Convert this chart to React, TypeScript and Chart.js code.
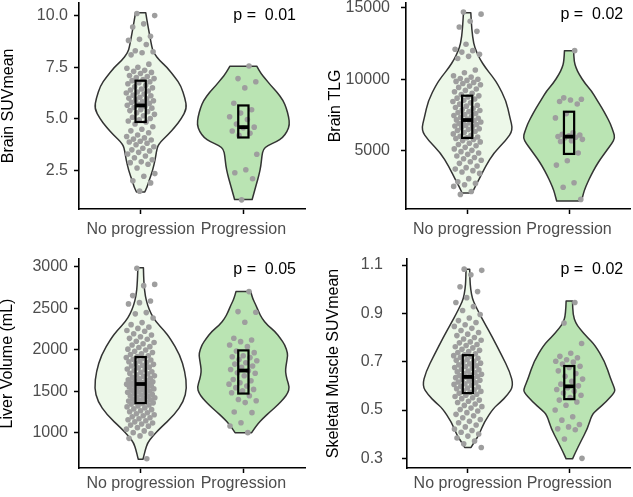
import React, { useEffect, useRef } from "react";
import { Chart, registerables } from "chart.js";

Chart.register(...registerables);

const categories = ["No progression", "Progression"];

// ---------- Panel A: Brain SUVmean ----------
const suvTicks = [2.5, 5, 7.5, 10];
const suvTickLabels = ["2.5", "5.0", "7.5", "10.0"];
const suvNoProg = [10.1, 10.0, 9.6, 9.45, 9.0, 8.85, 8.8, 8.6, 8.3, 8.25, 8.2, 8.1, 7.65, 7.5, 7.45, 7.35, 7.3, 7.25, 7.2, 7.1, 7.05, 7.0, 6.95, 6.9, 6.85, 6.8, 6.75, 6.7, 6.62, 6.55, 6.5, 6.45, 6.4, 6.35, 6.3, 6.25, 6.2, 6.15, 6.12, 6.05, 6.0, 5.97, 5.92, 5.88, 5.83, 5.8, 5.75, 5.7, 5.66, 5.6, 5.55, 5.52, 5.45, 5.4, 5.35, 5.3, 5.22, 5.15, 5.08, 5.02, 4.95, 4.9, 4.85, 4.75, 4.62, 4.5, 4.42, 4.33, 4.22, 4.15, 4.08, 4.02, 3.98, 3.92, 3.88, 3.82, 3.75, 3.65, 3.58, 3.5, 3.45, 3.38, 3.3, 3.2, 3.12, 3.02, 2.92, 2.88, 2.8, 2.62, 2.35, 2.22, 2.0, 1.9, 1.5];
const suvProg = [7.56, 6.95, 6.8, 6.5, 5.76, 5.44, 5.28, 5.1, 4.97, 4.75, 4.6, 4.57, 4.41, 4.3, 4.2, 3.29, 2.54, 2.39, 2.1, 1.08];
const suvNoProgBox = [4.85, 5.65, 6.85];
const suvProgBox = [4.1, 4.6, 5.65];
const suvNoProgLevels = [1.46, 1.7, 2.0, 2.5, 3.1, 3.4, 3.77, 4.25, 4.6, 5.0, 5.5, 6.0, 6.6, 7.0, 7.5, 7.8, 8.2, 8.5, 9.0, 9.6, 10.14];
const suvNoProgWidths = [0.09, 0.14, 0.18, 0.26, 0.32, 0.34, 0.38, 0.6, 0.74, 0.88, 1.0, 0.96, 0.87, 0.75, 0.57, 0.42, 0.28, 0.24, 0.2, 0.15, 0.11];
const suvProgLevels = [1.1, 1.5, 1.9, 2.3, 2.73, 3.2, 3.53, 3.7, 3.9, 4.09, 4.4, 4.72, 5.1, 5.52, 5.9, 6.32, 6.6, 6.96, 7.2, 7.55];
const suvProgWidths = [0.19, 0.24, 0.29, 0.34, 0.38, 0.4, 0.43, 0.52, 0.72, 0.85, 0.95, 1.0, 0.98, 0.93, 0.86, 0.72, 0.6, 0.47, 0.38, 0.29];

// ---------- Panel B: Brain TLG ----------
const tlgTicks = [5000, 10000, 15000];
const tlgTickLabels = ["5000", "10000", "15000"];
const tlgNoProg = [14700, 14550, 14050, 13650, 13350, 12450, 12100, 12000, 11900, 11750, 11600, 11450, 10650, 10450, 10250, 10150, 10050, 10000, 9920, 9850, 9780, 9700, 9620, 9520, 9430, 9320, 9220, 9130, 9020, 8930, 8840, 8760, 8680, 8620, 8530, 8440, 8350, 8260, 8180, 8120, 8030, 7950, 7880, 7820, 7740, 7680, 7610, 7540, 7470, 7410, 7340, 7270, 7220, 7160, 7110, 7060, 7010, 6960, 6910, 6840, 6780, 6730, 6680, 6620, 6540, 6480, 6420, 6350, 6270, 6180, 6090, 6020, 5960, 5910, 5860, 5790, 5710, 5620, 5530, 5440, 5350, 5240, 5130, 5030, 4940, 4840, 4750, 4640, 4530, 4440, 4340, 4230, 4120, 3940, 3820, 3720, 3610, 3520, 3420, 3050, 2830, 2720, 2630, 2510, 2150, 1950];
const tlgProg = [12000, 8700, 8600, 8550, 8450, 8270, 7600, 7300, 6250, 6150, 6100, 6050, 6000, 5950, 5900, 5800, 5700, 5650, 4850, 4300, 4000, 2770, 2450, 1600];
const tlgNoProgBox = [5900, 7150, 8850];
const tlgProgBox = [4780, 5990, 7730];
const tlgNoProgLevels = [2050, 2400, 3000, 3900, 4850, 5740, 6450, 7350, 8500, 9650, 10200, 10800, 11400, 11950, 12500, 13500, 14650];
const tlgNoProgWidths = [0.11, 0.16, 0.26, 0.4, 0.58, 0.85, 1.0, 0.93, 0.85, 0.67, 0.55, 0.4, 0.28, 0.2, 0.14, 0.1, 0.08];
const tlgProgLevels = [1490, 1840, 2200, 2760, 3300, 3900, 4500, 5060, 5500, 5900, 6300, 6900, 7400, 8040, 8600, 9190, 9700, 10340, 10800, 11260, 12000];
const tlgProgWidths = [0.27, 0.3, 0.33, 0.4, 0.48, 0.58, 0.7, 0.83, 0.93, 1.0, 0.97, 0.9, 0.82, 0.71, 0.6, 0.49, 0.35, 0.22, 0.15, 0.11, 0.1];

// ---------- Panel C: Liver Volume ----------
const liverTicks = [1000, 1500, 2000, 2500, 3000];
const liverTickLabels = ["1000", "1500", "2000", "2500", "3000"];
const liverNoProg = [2985, 2790, 2775, 2655, 2590, 2570, 2555, 2450, 2435, 2385, 2330, 2305, 2275, 2260, 2235, 2225, 2195, 2180, 2160, 2140, 2130, 2105, 2090, 2075, 2060, 2040, 2030, 2010, 2000, 1985, 1970, 1955, 1945, 1930, 1920, 1910, 1898, 1887, 1880, 1866, 1858, 1850, 1836, 1827, 1815, 1806, 1793, 1784, 1770, 1762, 1750, 1738, 1731, 1718, 1712, 1700, 1688, 1683, 1671, 1660, 1652, 1640, 1634, 1625, 1618, 1610, 1603, 1598, 1594, 1588, 1583, 1575, 1568, 1561, 1553, 1546, 1538, 1531, 1522, 1514, 1506, 1497, 1490, 1481, 1473, 1466, 1457, 1449, 1441, 1432, 1424, 1417, 1408, 1399, 1392, 1384, 1377, 1370, 1363, 1356, 1348, 1337, 1325, 1314, 1302, 1290, 1281, 1268, 1255, 1243, 1232, 1220, 1208, 1195, 1183, 1172, 1160, 1147, 1134, 1121, 1108, 1095, 1082, 1064, 1046, 1025, 1004, 992, 965, 935, 690];
const liverProg = [2703, 2462, 2454, 2334, 2141, 2121, 2100, 2060, 2040, 1988, 1968, 1930, 1918, 1908, 1885, 1870, 1846, 1830, 1806, 1790, 1765, 1749, 1725, 1719, 1690, 1645, 1630, 1605, 1588, 1566, 1546, 1525, 1508, 1484, 1448, 1404, 1388, 1366, 1253, 1245, 1124, 1084, 1004];
const liverNoProgBox = [1360, 1590, 1915];
const liverProgBox = [1475, 1752, 1995];
const liverNoProgLevels = [683, 700, 795, 880, 955, 1057, 1217, 1380, 1540, 1740, 1940, 2140, 2240, 2340, 2440, 2540, 2650, 2800, 2990];
const liverNoProgWidths = [0.05, 0.06, 0.1, 0.15, 0.25, 0.42, 0.73, 0.93, 1.0, 0.96, 0.85, 0.64, 0.5, 0.33, 0.22, 0.15, 0.1, 0.07, 0.06];
const liverProgLevels = [1004, 1096, 1180, 1257, 1340, 1418, 1480, 1550, 1650, 1740, 1800, 1900, 1960, 2060, 2140, 2220, 2300, 2382, 2460, 2542, 2620, 2703];
const liverProgWidths = [0.18, 0.29, 0.43, 0.58, 0.75, 0.88, 0.96, 1.0, 0.94, 0.91, 0.92, 0.95, 0.96, 0.9, 0.8, 0.69, 0.52, 0.4, 0.33, 0.27, 0.2, 0.16];

// ---------- Panel D: Skeletal Muscle SUVmean ----------
const muscleTicks = [0.3, 0.5, 0.7, 0.9, 1.1];
const muscleTickLabels = ["0.3", "0.5", "0.7", "0.9", "1.1"];
const muscleNoProg = [1.083, 1.078, 1.06, 1.01, 0.99, 0.965, 0.945, 0.928, 0.912, 0.895, 0.881, 0.87, 0.862, 0.853, 0.846, 0.838, 0.829, 0.821, 0.814, 0.808, 0.8, 0.794, 0.789, 0.782, 0.778, 0.771, 0.767, 0.762, 0.757, 0.751, 0.747, 0.742, 0.738, 0.733, 0.729, 0.725, 0.721, 0.718, 0.714, 0.709, 0.706, 0.702, 0.699, 0.694, 0.691, 0.687, 0.683, 0.68, 0.676, 0.673, 0.669, 0.666, 0.661, 0.658, 0.655, 0.651, 0.648, 0.645, 0.643, 0.64, 0.637, 0.634, 0.631, 0.627, 0.623, 0.62, 0.616, 0.613, 0.609, 0.606, 0.602, 0.598, 0.595, 0.591, 0.588, 0.584, 0.58, 0.577, 0.573, 0.569, 0.565, 0.561, 0.556, 0.551, 0.547, 0.541, 0.536, 0.531, 0.525, 0.519, 0.514, 0.508, 0.502, 0.496, 0.489, 0.482, 0.476, 0.468, 0.461, 0.453, 0.447, 0.438, 0.43, 0.421, 0.415, 0.408, 0.401, 0.392, 0.384, 0.372, 0.36, 0.345];
const muscleProg = [0.945, 0.86, 0.775, 0.735, 0.722, 0.716, 0.708, 0.702, 0.698, 0.69, 0.681, 0.676, 0.662, 0.651, 0.64, 0.628, 0.619, 0.607, 0.6, 0.592, 0.585, 0.578, 0.57, 0.561, 0.552, 0.541, 0.533, 0.52, 0.5, 0.472, 0.458, 0.44, 0.43, 0.422, 0.418, 0.38, 0.3];
const muscleNoProgBox = [0.57, 0.637, 0.727];
const muscleProgBox = [0.545, 0.598, 0.682];
const muscleNoProgLevels = [0.345, 0.37, 0.396, 0.451, 0.507, 0.53, 0.562, 0.6, 0.658, 0.727, 0.8, 0.865, 0.9, 0.934, 0.96, 1.0, 1.04, 1.083];
const muscleNoProgWidths = [0.07, 0.15, 0.24, 0.36, 0.56, 0.7, 0.87, 1.0, 0.92, 0.74, 0.54, 0.35, 0.25, 0.16, 0.1, 0.06, 0.045, 0.04];
const muscleProgLevels = [0.298, 0.327, 0.369, 0.424, 0.479, 0.5, 0.534, 0.575, 0.59, 0.631, 0.7, 0.769, 0.8, 0.838, 0.86, 0.893, 0.951];
const muscleProgWidths = [0.07, 0.14, 0.25, 0.4, 0.49, 0.6, 0.81, 1.0, 0.99, 0.9, 0.78, 0.56, 0.4, 0.22, 0.14, 0.08, 0.07];

const FONT = '"Liberation Sans", Arial, Helvetica, sans-serif';
const fillColors = ["#edf8e9", "#bae4b3"];

type Panel = {
  title: string;
  pText: string;
  yMin: number;
  yMax: number;
  ticks: number[];
  tickLabels: string[];
  groups: { values: number[]; box: number[]; levels: number[]; widths: number[] }[];
  geo: {
    x: number; y: number; w: number; h: number;
    padTop: number; padRight: number;
    yWidth: number; xHeight: number;
    yTickPad: number; xTickPad: number; titlePad: number;
    pRight: number; pTop: number;
  };
};

const panels: Panel[] = [
  {
    title: "Brain SUVmean", pText: "p =  0.01", yMin: 0.637, yMax: 10.62,
    ticks: suvTicks, tickLabels: suvTickLabels,
    groups: [
      { values: suvNoProg, box: suvNoProgBox, levels: suvNoProgLevels, widths: suvNoProgWidths },
      { values: suvProg, box: suvProgBox, levels: suvProgLevels, widths: suvProgWidths },
    ],
    geo: { x: 0, y: 0, w: 316, h: 250, padTop: 0, padRight: 11, yWidth: 79, xHeight: 41, yTickPad: 6, xTickPad: 6, titlePad: 1, pRight: 9, pTop: 13 },
  },
  {
    title: "Brain TLG", pText: "p =  0.02", yMin: 930, yMax: 15345,
    ticks: tlgTicks, tickLabels: tlgTickLabels,
    groups: [
      { values: tlgNoProg, box: tlgNoProgBox, levels: tlgNoProgLevels, widths: tlgNoProgWidths },
      { values: tlgProg, box: tlgProgBox, levels: tlgProgLevels, widths: tlgProgWidths },
    ],
    geo: { x: 316, y: 0, w: 317, h: 250, padTop: 0, padRight: 2, yWidth: 90, xHeight: 41, yTickPad: 11, xTickPad: 6, titlePad: 12, pRight: 7, pTop: 12 },
  },
  {
    title: "Liver Volume (mL)", pText: "p =  0.05", yMin: 578, yMax: 3096,
    ticks: liverTicks, tickLabels: liverTickLabels,
    groups: [
      { values: liverNoProg, box: liverNoProgBox, levels: liverNoProgLevels, widths: liverNoProgWidths },
      { values: liverProg, box: liverProgBox, levels: liverProgLevels, widths: liverProgWidths },
    ],
    geo: { x: 0, y: 250, w: 316, h: 247, padTop: 9, padRight: 11, yWidth: 79, xHeight: 29, yTickPad: 6, xTickPad: 1, titlePad: 0, pRight: 9, pTop: 11 },
  },
  {
    title: "Skeletal Muscle SUVmean", pText: "p =  0.02", yMin: 0.26, yMax: 1.125,
    ticks: muscleTicks, tickLabels: muscleTickLabels,
    groups: [
      { values: muscleNoProg, box: muscleNoProgBox, levels: muscleNoProgLevels, widths: muscleNoProgWidths },
      { values: muscleProg, box: muscleProgBox, levels: muscleProgLevels, widths: muscleProgWidths },
    ],
    geo: { x: 316, y: 250, w: 317, h: 247, padTop: 9, padRight: 2, yWidth: 91, xHeight: 29, yTickPad: 19, xTickPad: 1, titlePad: 9.5, pRight: 7, pTop: 11 },
  },
];

const HALF_VIOLIN = 0.45;
const HALF_BOX = 0.05;
const jitter = (i: number) => (((i * 0.6180339887 + 0.37) % 1) - 0.5) * 0.28;

function smoothPath(ctx: CanvasRenderingContext2D, pts: [number, number][]) {
  for (let k = 1; k < pts.length - 1; k++) {
    const mx = (pts[k][0] + pts[k + 1][0]) / 2;
    const my = (pts[k][1] + pts[k + 1][1]) / 2;
    ctx.quadraticCurveTo(pts[k][0], pts[k][1], mx, my);
  }
  const last = pts[pts.length - 1];
  ctx.lineTo(last[0], last[1]);
}

function PanelChart({ p }: { p: Panel }) {
  const ref = useRef<HTMLCanvasElement>(null);
  useEffect(() => {
    const g = p.geo;
    const violinPlugin = {
      id: "violins",
      beforeDatasetsDraw(chart: any) {
        const { ctx, scales } = chart;
        const xs = scales.x, ys = scales.y;
        p.groups.forEach((grp, gi) => {
          const c = gi + 1;
          const right: [number, number][] = grp.levels.map((lv, k) => [xs.getPixelForValue(c + grp.widths[k] * HALF_VIOLIN), ys.getPixelForValue(lv)]);
          const left: [number, number][] = grp.levels.map((lv, k) => [xs.getPixelForValue(c - grp.widths[k] * HALF_VIOLIN), ys.getPixelForValue(lv)]).reverse();
          ctx.save();
          ctx.beginPath();
          ctx.moveTo(left[left.length - 1][0], left[left.length - 1][1]);
          ctx.lineTo(right[0][0], right[0][1]);
          smoothPath(ctx, right);
          ctx.lineTo(left[0][0], left[0][1]);
          smoothPath(ctx, left);
          ctx.closePath();
          ctx.fillStyle = fillColors[gi];
          ctx.fill();
          ctx.lineWidth = 1.5;
          ctx.strokeStyle = "#333333";
          ctx.lineJoin = "round";
          ctx.stroke();
          ctx.restore();
        });
      },
      afterDatasetsDraw(chart: any) {
        const { ctx, scales, chartArea } = chart;
        const xs = scales.x, ys = scales.y;
        p.groups.forEach((grp, gi) => {
          const c = gi + 1;
          const x0 = xs.getPixelForValue(c - HALF_BOX);
          const x1 = xs.getPixelForValue(c + HALF_BOX);
          const yq1 = ys.getPixelForValue(grp.box[0]);
          const ymed = ys.getPixelForValue(grp.box[1]);
          const yq3 = ys.getPixelForValue(grp.box[2]);
          ctx.save();
          ctx.strokeStyle = "#000000";
          ctx.lineWidth = 2.2;
          ctx.strokeRect(x0, yq3, x1 - x0, yq1 - yq3);
          ctx.lineWidth = 3.8;
          ctx.beginPath();
          ctx.moveTo(x0, ymed);
          ctx.lineTo(x1, ymed);
          ctx.stroke();
          ctx.restore();
        });
        ctx.save();
        ctx.font = `16px ${FONT}`;
        ctx.fillStyle = "#000000";
        ctx.textAlign = "right";
        ctx.textBaseline = "middle";
        ctx.fillText(p.pText, chartArea.right - g.pRight, chartArea.top + g.pTop);
        ctx.restore();
      },
    };

    const datasets = p.groups.map((grp, gi) => ({
      data: grp.values.map((v, i) => ({ x: gi + 1 + jitter(i + gi * 7), y: v })),
      backgroundColor: "#9e9e9e",
      borderWidth: 0,
      pointRadius: 2.8,
      pointHoverRadius: 2.8,
    }));

    const gridOpts = { display: true, drawOnChartArea: false, drawTicks: true, tickLength: 5, tickColor: "#000000", tickWidth: 1.5, color: "#000000" };
    const borderOpts = { display: true, color: "#000000", width: 1.6 };

    const chart = new Chart(ref.current!, {
      type: "scatter",
      data: { datasets },
      options: {
        animation: false,
        responsive: false,
        devicePixelRatio: 1,
        events: [],
        layout: { padding: { left: 0, top: g.padTop, right: g.padRight, bottom: 0 } },
        plugins: { legend: { display: false }, tooltip: { enabled: false } },
        scales: {
          x: {
            type: "linear",
            min: 0.4,
            max: 2.6,
            afterBuildTicks: (axis: any) => {
              axis.ticks = [{ value: 1 }, { value: 2 }];
            },
            afterFit: (axis: any) => {
              axis.height = g.xHeight;
              axis.paddingLeft = 0;
              axis.paddingRight = 0;
            },
            grid: gridOpts,
            border: borderOpts,
            ticks: {
              autoSkip: false,
              maxRotation: 0,
              minRotation: 0,
              padding: g.xTickPad,
              color: "#4d4d4d",
              font: { family: FONT, size: 16, lineHeight: 1.2 },
              callback: (v: any) => categories[Math.round(Number(v)) - 1],
            },
          },
          y: {
            type: "linear",
            min: p.yMin,
            max: p.yMax,
            afterBuildTicks: (axis: any) => {
              axis.ticks = p.ticks.map((v) => ({ value: v }));
            },
            afterFit: (axis: any) => {
              axis.width = g.yWidth;
              axis.paddingTop = 0;
              axis.paddingBottom = 0;
            },
            grid: gridOpts,
            border: borderOpts,
            title: {
              display: true,
              text: p.title,
              color: "#000000",
              font: { family: FONT, size: 16, lineHeight: 1 },
              padding: { top: g.titlePad, bottom: 0 },
            },
            ticks: {
              padding: g.yTickPad,
              color: "#4d4d4d",
              font: { family: FONT, size: 16 },
              callback: (_v: any, idx: number) => p.tickLabels[idx],
            },
          },
        },
      },
      plugins: [violinPlugin],
    } as any);
    return () => chart.destroy();
  }, [p]);

  const g = p.geo;
  return (
    <canvas
      ref={ref}
      width={g.w}
      height={g.h}
      style={{ position: "absolute", left: g.x, top: g.y, width: g.w, height: g.h }}
    />
  );
}

export default function App() {
  return (
    <div style={{ position: "absolute", left: 0, top: 0, width: 633, height: 497, background: "#ffffff", overflow: "hidden" }}>
      {panels.map((p, i) => (
        <PanelChart key={i} p={p} />
      ))}
    </div>
  );
}
